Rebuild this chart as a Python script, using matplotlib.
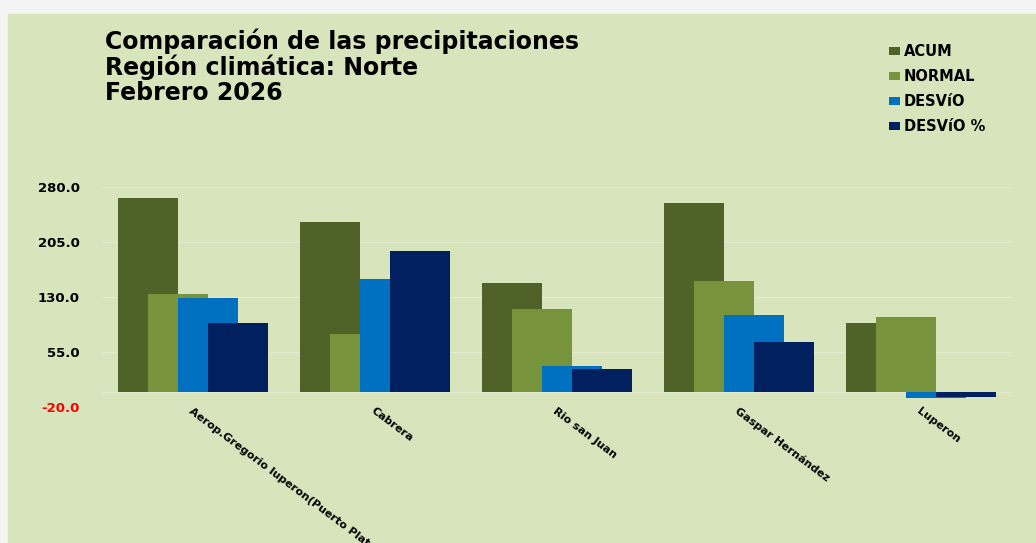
import numpy as np
import matplotlib.pyplot as plt
from matplotlib.patches import Rectangle

""" Data """
estaciones = ["Aerop.Gregorio luperon(Puerto Plata)", "Cabrera", "Rio san Juan",
              "Gaspar Hernández", "Luperon"]
acum = [265.0, 232.5, 149.0, 257.5, 94.5]
normal = [134.0, 80.0, 113.5, 152.0, 102.5]
desvio = [129.0, 154.0, 36.0, 106.0, -7.5]
desvio_pct = [94.0, 192.5, 32.0, 69.0, -7.0]
yticks = [-20.0, 55.0, 130.0, 205.0, 280.0]

series = [("ACUM", acum, "#4f6228"), ("NORMAL", normal, "#77933c"),
          ("DESVíO", desvio, "#0070c0"), ("DESVíO %", desvio_pct, "#002060")]

plt.rcParams["font.family"] = ["DejaVu Sans"]
plt.rcParams["font.weight"] = "bold"

fig = plt.figure(figsize=(10.36, 5.43), dpi=100, facecolor="#f4f4f4")
# fondo verde del grafico
fig.patches.append(Rectangle((8 / 1036, 0), 1, 1 - 14 / 543, transform=fig.transFigure,
                             color="#d8e4bc", zorder=-10))

ax = fig.add_axes([102 / 1036, 1 - 407 / 543, 910 / 1036, 220 / 543])
ax.set_facecolor("none")

x = np.arange(len(estaciones))
w = 0.33
step = 0.165
for i, (name, vals, col) in enumerate(series):
    ax.bar(x + (i - 1.5) * step, vals, width=w, color=col, label=name, zorder=2 + i)

ax.set_xlim(-0.5, len(estaciones) - 0.5)
ax.set_ylim(-20, 280)
ax.set_yticks(yticks)
ax.set_yticklabels([f"{v:.1f}" for v in yticks], fontsize=9.5, fontweight="bold")
ax.get_yticklabels()[0].set_color("#ff0000")
for yv in yticks:
    ax.axhline(yv, color="#e3ebcf", lw=1, zorder=1)
ax.axhline(0, color="#e3ebcf", lw=1, zorder=1)

ax.set_xticks(x)
ax.set_xticklabels(estaciones, rotation=-37, ha="left", va="top",
                   rotation_mode="anchor", fontsize=8, fontweight="bold")
ax.tick_params(axis="y", length=0, pad=16)
ax.tick_params(axis="x", length=0, pad=-1)
for s in ax.spines.values():
    s.set_visible(False)

fig.text(105 / 1036, 1 - 28 / 543,
         "Comparación de las precipitaciones\nRegión climática: Norte\nFebrero 2026",
         ha="left", va="top", fontsize=17, fontweight="bold", linespacing=1.05)

ax.legend(loc="upper left", bbox_to_anchor=(882 / 1036, 1 - 37 / 543),
          bbox_transform=fig.transFigure, frameon=False,
          handlelength=0.7, handleheight=0.45, handletextpad=0.3, labelspacing=0.68,
          borderpad=0, prop={"weight": "bold", "size": 10.5})

fig.savefig("out.png", dpi=100, facecolor=fig.get_facecolor())
